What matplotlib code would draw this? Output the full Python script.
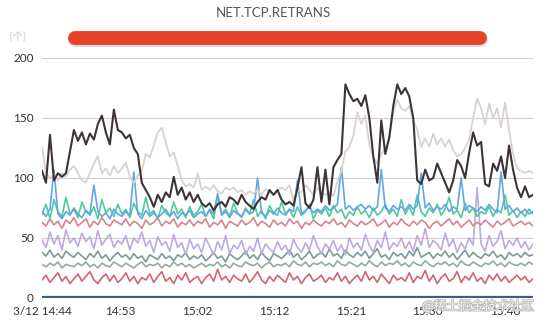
import numpy as np
import matplotlib
matplotlib.use('Agg')
import matplotlib.pyplot as plt
from matplotlib.lines import Line2D
import matplotlib.patheffects as pe

plt.rcParams['font.family'] = ['Lato', 'Noto Sans CJK SC', 'DejaVu Sans']

# 时间轴（分钟，从 14:44 开始）
t_end = 57.4
tick_pos = [0, 9.1, 18.1, 27.2, 36.2, 45.0, 54.1]
tick_labels = ['3/12 14:44', '14:53', '15:02', '15:12', '15:21', '15:30', '15:40']

dark = [106, 96, 136, 98, 104, 101, 104, 122, 140, 131, 138, 128, 137, 132, 145, 152, 138, 128, 157, 140,
        138, 133, 136, 125, 120, 96, 90, 84, 76, 86, 80, 88, 84, 101, 86, 92, 82, 88, 80, 86,
        79, 76, 79, 73, 78, 80, 76, 84, 82, 78, 86, 80, 77, 74, 80, 84, 82, 90, 86, 90,
        82, 78, 80, 77, 92, 109, 79, 75, 82, 109, 80, 107, 78, 109, 115, 120, 178, 170, 164, 166,
        160, 169, 150, 118, 96, 148, 120, 134, 160, 178, 170, 175, 168, 150, 98, 95, 107, 98, 100, 112,
        104, 96, 88, 98, 115, 110, 100, 121, 138, 127, 130, 95, 93, 112, 106, 118, 100, 127, 107, 92,
        84, 93, 84, 86]
light = [126, 104, 100, 103, 98, 104, 101, 107, 110, 104, 98, 96, 104, 112, 118, 104, 108, 102, 110, 104,
         108, 113, 101, 96, 102, 106, 120, 117, 127, 138, 142, 130, 118, 121, 110, 98, 93, 95, 92, 104,
         90, 93, 90, 94, 89, 87, 92, 90, 92, 88, 90, 86, 89, 87, 90, 86, 91, 88, 86, 89,
         92, 90, 94, 82, 90, 88, 94, 90, 86, 92, 88, 86, 88, 85, 97, 106, 122, 126, 135, 155,
         145, 152, 128, 117, 112, 120, 124, 132, 155, 165, 158, 156, 160, 148, 140, 126, 133, 126, 137, 128,
         133, 126, 132, 123, 118, 120, 125, 132, 150, 166, 158, 145, 162, 150, 158, 142, 163, 140, 120, 108,
         106, 104, 106, 104]
blue = [72, 68, 74, 107, 70, 66, 72, 69, 75, 70, 67, 73, 70, 94, 72, 68, 71, 66, 74, 70,
        68, 72, 69, 105, 70, 66, 73, 68, 71, 67, 70, 74, 68, 72, 66, 71, 69, 73, 67, 70,
        72, 68, 74, 70, 87, 69, 72, 67, 73, 70, 68, 74, 70, 72, 100, 71, 68, 73, 70, 75,
        71, 69, 74, 72, 98, 70, 73, 76, 71, 74, 72, 77, 73, 75, 78, 109, 74, 77, 73, 76,
        78, 74, 77, 73, 76, 107, 75, 72, 77, 74, 76, 73, 78, 74, 77, 104, 75, 79, 73, 76,
        74, 78, 72, 76, 74, 100, 73, 77, 75, 72, 76, 73, 78, 74, 71, 105, 74, 77, 72, 75,
        71, 74, 70, 72]
green = [70, 78, 66, 82, 72, 68, 84, 70, 74, 67, 80, 72, 69, 76, 66, 82, 71, 75, 68, 78,
         70, 74, 67, 79, 72, 69, 84, 70, 73, 66, 77, 71, 68, 80, 70, 74, 67, 76, 69, 72,
         78, 68, 73, 66, 85, 70, 74, 68, 79, 71, 67, 75, 70, 82, 68, 73, 66, 77, 71, 69,
         80, 70, 74, 67, 76, 69, 72, 78, 66, 73, 70, 75, 68, 77, 71, 74, 66, 72, 69, 76,
         70, 73, 67, 75, 69, 72, 78, 70, 74, 68, 82, 70, 76, 69, 86, 72, 68, 75, 71, 78,
         69, 74, 84, 70, 73, 67, 79, 71, 75, 68, 72, 70, 76, 68, 74, 71, 86, 69, 73, 67,
         72, 68, 74, 70]
pink = [63, 60, 66, 61, 64, 58, 65, 62, 67, 60, 63, 66, 59, 64, 61, 67, 62, 60, 65, 63,
        61, 66, 60, 64, 62, 58, 65, 61, 63, 67, 60, 64, 62, 66, 59, 63, 61, 65, 60, 64,
        62, 66, 59, 63, 61, 65, 58, 64, 62, 60, 65, 61, 63, 67, 60, 64, 62, 59, 65, 61,
        63, 60, 66, 62, 64, 58, 63, 61, 65, 62, 60, 64, 62, 66, 61, 63, 59, 65, 62, 60,
        64, 61, 63, 66, 60, 62, 65, 59, 63, 61, 66, 62, 60, 64, 61, 65, 63, 58, 62, 64,
        60, 63, 66, 61, 64, 59, 62, 65, 60, 63, 61, 65, 62, 59, 64, 61, 63, 66, 60, 62,
        64, 61, 63, 60]
lavender = [48, 42, 55, 45, 52, 40, 57, 46, 50, 43, 54, 47, 51, 41, 56, 44, 49, 53, 42, 48,
            45, 52, 40, 50, 46, 55, 43, 48, 38, 51, 44, 47, 39, 53, 42, 46, 36, 49, 41, 45,
            38, 50, 43, 36, 47, 40, 52, 37, 44, 41, 48, 36, 43, 39, 50, 37, 45, 41, 38, 47,
            40, 44, 36, 49, 42, 38, 46, 40, 52, 43, 37, 45, 41, 48, 39, 44, 36, 50, 42, 46,
            40, 53, 44, 38, 48, 42, 55, 40, 46, 43, 50, 41, 47, 39, 52, 44, 58, 42, 48, 45,
            40, 54, 43, 49, 38, 46, 41, 50, 44, 92, 45, 39, 52, 43, 47, 56, 41, 48, 44, 50,
            42, 47, 40, 45]
grayteal = [38, 35, 40, 34, 37, 33, 39, 36, 34, 38, 35, 32, 37, 34, 39, 33, 36, 31, 35, 38,
            34, 36, 32, 37, 33, 35, 30, 36, 34, 32, 37, 33, 35, 31, 36, 34, 38, 32, 35, 33,
            36, 31, 34, 38, 33, 35, 30, 37, 34, 32, 35, 39, 33, 36, 32, 38, 34, 31, 37, 35,
            33, 36, 40, 34, 37, 32, 35, 39, 33, 36, 38, 34, 41, 35, 37, 33, 40, 36, 34, 38,
            35, 39, 33, 37, 41, 34, 36, 32, 38, 35, 37, 33, 39, 35, 42, 34, 36, 38, 33, 37,
            35, 39, 34, 37, 32, 36, 40, 34, 38, 35, 33, 37, 35, 39, 34, 36, 32, 38, 35, 37,
            34, 38, 35, 36]
greengray = [28, 26, 29, 27, 30, 25, 28, 27, 26, 29, 27, 30, 26, 28, 25, 29, 27, 26, 30, 28,
             26, 29, 27, 25, 28, 30, 26, 28, 27, 29, 25, 28, 26, 30, 27, 29, 26, 28, 25, 27,
             29, 26, 28, 27, 30, 26, 28, 25, 29, 27, 26, 30, 28, 27, 29, 25, 28, 30, 26, 28,
             27, 29, 26, 31, 28, 27, 30, 26, 29, 28, 30, 27, 29, 26, 31, 28, 27, 30, 28, 26,
             29, 27, 31, 28, 26, 30, 27, 29, 28, 31, 27, 29, 26, 30, 28, 27, 31, 28, 26, 29,
             28, 30, 27, 29, 26, 31, 28, 27, 30, 28, 26, 29, 28, 31, 27, 29, 26, 30, 28, 27,
             29, 27, 30, 28]
red = [15, 19, 13, 17, 21, 14, 18, 12, 16, 20, 14, 18, 22, 15, 12, 17, 20, 14, 19, 13,
       16, 21, 14, 18, 12, 17, 15, 20, 13, 18, 22, 14, 17, 12, 19, 15, 21, 13, 16, 18,
       12, 17, 20, 14, 24, 15, 18, 13, 19, 16, 14, 20, 13, 17, 22, 15, 12, 18, 14, 19,
       16, 13, 21, 15, 18, 12, 17, 20, 14, 16, 19, 13, 17, 15, 21, 14, 18, 12, 16, 19,
       14, 22, 15, 18, 13, 20, 16, 12, 19, 15, 17, 14, 21, 13, 18, 16, 23, 14, 19, 12,
       17, 20, 14, 16, 22, 13, 18, 15, 21, 14, 17, 12, 19, 15, 20, 14, 18, 13, 16, 19,
       15, 18, 13, 16]
navy = [0.8, 0.8]

series = [
    (red, '#d4646f', 1.2),
    (greengray, '#8fae9c', 1.2),
    (grayteal, '#7c9a9c', 1.2),
    (lavender, '#bcaae0', 1.2),
    (pink, '#d3868f', 1.2),
    (green, '#4ec9a2', 1.2),
    (blue, '#62a6e4', 1.2),
    (light, '#d8d3cf', 1.3),
    (dark, '#3e3435', 1.5),
]

fig = plt.figure(figsize=(5.47, 3.25), dpi=100)
ax = fig.add_axes([42 / 547, 27 / 325, 491 / 547, 240 / 325])

for vals, c, lw in series:
    ax.plot(np.linspace(0, t_end, len(vals)), vals, color=c, lw=lw)
ax.plot(np.linspace(0, t_end, len(navy)), navy, color='#3a5d8f', lw=1.6)

ax.set_xlim(0, t_end)
ax.set_ylim(0, 200)
ax.set_yticks([0, 50, 100, 150, 200])
ax.set_xticks(tick_pos)
ax.set_xticklabels(tick_labels)
ax.tick_params(length=0, labelsize=8.5, colors='#333333', pad=6)
ax.grid(axis='y', color='#cfcfcf', lw=0.8)
ax.set_axisbelow(True)
for s in ax.spines.values():
    s.set_visible(False)

# 标题与单位
fig.text(0.5, 1 - 13 / 325, 'NET.TCP.RETRANS', ha='center', va='center', fontsize=9.5, color='#555555')
fig.text(18 / 547, 1 - 37 / 325, '(个)', ha='center', va='center', fontsize=7.5, color='#c8c8c8',
         family=['Noto Sans CJK SC', 'DejaVu Sans'])

# 红色滚动条
fig.add_artist(Line2D([75 / 547, 481 / 547], [1 - 39.5 / 325] * 2, transform=fig.transFigure,
                      color='#999999', alpha=0.35, lw=10, solid_capstyle='round'))
fig.add_artist(Line2D([75 / 547, 480 / 547], [1 - 38 / 325] * 2, transform=fig.transFigure,
                      color='#e8432a', lw=10, solid_capstyle='round'))

# 水印
fig.text(478 / 547, 1 - 306 / 325, '@稀土掘金技术社区', ha='center', va='center', fontsize=9,
         color='#f4f4f4', family=['Noto Sans CJK SC', 'DejaVu Sans'],
         path_effects=[pe.withStroke(linewidth=1.2, foreground='#b8b8b8')])

fig.savefig('out.png', dpi=100)
